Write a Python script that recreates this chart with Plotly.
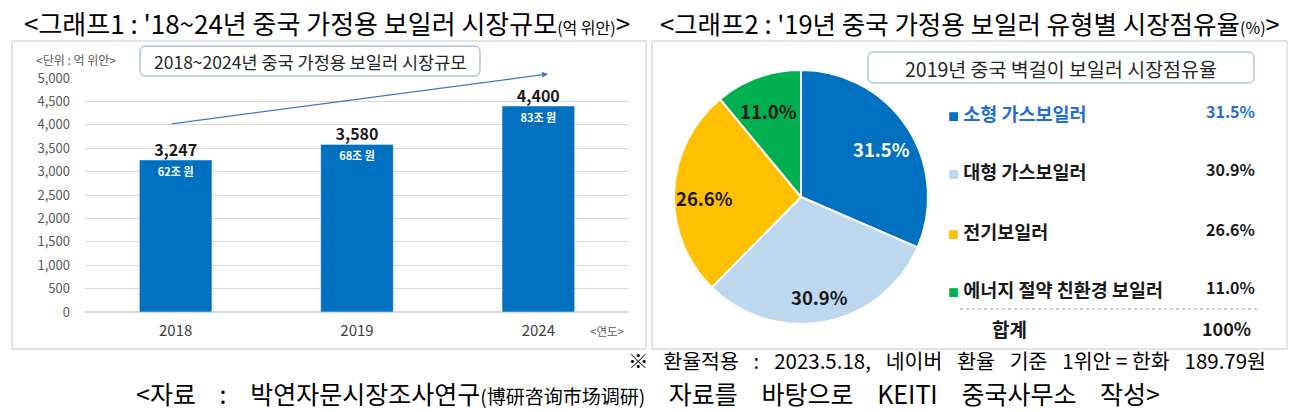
import math
import plotly.graph_objects as go

W, H = 1298, 412

# ---- data ----
years = ["2018", "2019", "2024"]
market_size = [3247, 3580, 4400]
krw_labels = ["62조 원", "68조 원", "83조 원"]
y_ticks = [0, 500, 1000, 1500, 2000, 2500, 3000, 3500, 4000, 4500, 5000]

pie_labels = ["소형 가스보일러", "대형 가스보일러", "전기보일러", "에너지 절약 친환경 보일러"]
pie_values = [31.5, 30.9, 26.6, 11.0]
pie_colors = ["#0070C0", "#BDD7EE", "#FFC000", "#00B050"]
pie_text_colors = ["white", "#1a1a1a", "#1a1a1a", "#1a1a1a"]

KR = "Noto Sans CJK KR"
NB = "\u00a0"
GAP = "\u2002" + NB + NB


def px(x):
    return x / W


def py(y):
    return (H - y) / H


fig = go.Figure()

fig.add_trace(go.Bar(
    x=years, y=market_size, marker_color="#0070C0",
    text=krw_labels, textposition="inside", insidetextanchor="end",
    textfont=dict(family=KR, size=11, color="white", weight="bold"),
    hoverinfo="skip", showlegend=False,
))
fig.add_trace(go.Scatter(
    x=years, y=market_size, mode="text",
    text=[f"{v:,}" for v in market_size], textposition="top center",
    textfont=dict(family=KR, size=16, color="#1a1a1a", weight="bold"),
    hoverinfo="skip", showlegend=False,
))

PIE_L, PIE_R, PIE_T, PIE_B = 674, 928, 70, 324
fig.add_trace(go.Pie(
    labels=pie_labels, values=pie_values, sort=False, direction="clockwise",
    rotation=0, marker=dict(colors=pie_colors, line=dict(color="white", width=2)),
    textinfo="none",
    domain=dict(x=[px(PIE_L), px(PIE_R)], y=[py(PIE_B), py(PIE_T)]),
    showlegend=False, hoverinfo="skip",
))

fig.update_layout(
    width=W, height=H, margin=dict(l=0, r=0, t=0, b=0, pad=0), autosize=False,
    paper_bgcolor="white", plot_bgcolor="white",
    bargap=0.6,
    xaxis=dict(domain=[px(85), px(629)], showgrid=False, showline=False,
               automargin=False,
               tickfont=dict(family=KR, size=15, color="#404040"),
               ticklabelstandoff=8, fixedrange=True),
    yaxis=dict(domain=[py(312), py(78)], range=[0, 5000], tickvals=y_ticks,
               automargin=False,
               tickformat=",", gridcolor="#D9D9D9", gridwidth=1,
               zeroline=True, zerolinecolor="#D9D9D9",
               tickfont=dict(family=KR, size=13, color="#595959"),
               ticklabelstandoff=14, fixedrange=True),
    font=dict(family=KR),
)

shapes = []
# panel borders
shapes.append(dict(type="rect", xref="paper", yref="paper",
                   x0=px(12), x1=px(646), y0=py(349), y1=py(41),
                   line=dict(color="#C8C8C8", width=1)))
shapes.append(dict(type="rect", xref="paper", yref="paper",
                   x0=px(652), x1=px(1287), y0=py(349), y1=py(41),
                   line=dict(color="#C8C8C8", width=1)))


def rounded(x0, y0, x1, y1, r=6):
    return (f"M {px(x0 + r)} {py(y0)} L {px(x1 - r)} {py(y0)} "
            f"Q {px(x1)} {py(y0)} {px(x1)} {py(y0 + r)} "
            f"L {px(x1)} {py(y1 - r)} Q {px(x1)} {py(y1)} {px(x1 - r)} {py(y1)} "
            f"L {px(x0 + r)} {py(y1)} Q {px(x0)} {py(y1)} {px(x0)} {py(y1 - r)} "
            f"L {px(x0)} {py(y0 + r)} Q {px(x0)} {py(y0)} {px(x0 + r)} {py(y0)} Z")


shapes.append(dict(type="path", xref="paper", yref="paper",
                   path=rounded(140, 46, 480, 76),
                   line=dict(color="#8FA8C8", width=1), fillcolor="white"))
shapes.append(dict(type="path", xref="paper", yref="paper",
                   path=rounded(868, 52, 1254, 83),
                   line=dict(color="#8FA8C8", width=1), fillcolor="white"))
# dashed total line
shapes.append(dict(type="line", xref="paper", yref="paper",
                   x0=px(960), x1=px(1257), y0=py(309), y1=py(309),
                   line=dict(color="#A0A0A0", width=1, dash="dot")))
fig.update_layout(shapes=shapes)

ann = []


def note(x, y, text, size, color="black", xanchor="center", weight="normal", family=KR):
    ann.append(dict(x=px(x), y=py(y), xref="paper", yref="paper", showarrow=False,
                    xanchor=xanchor, yanchor="middle", text=text,
                    font=dict(family=family, size=size, color=color, weight=weight)))


# titles
note(327, 23, "&lt;그래프1 : '18~24년 중국 가정용 보일러 시장규모<span style=\"font-size:16px\">(억 위안)</span>&gt;", 26)
note(970, 23, "&lt;그래프2 : '19년 중국 가정용 보일러 유형별 시장점유율<span style=\"font-size:16px\">(%)</span>&gt;", 25.5)
# box titles
note(310, 61, "2018~2024년 중국 가정용 보일러 시장규모", 17.5, "#262626")
note(1061, 68, "2019년 중국 벽걸이 보일러 시장점유율", 19.5, "#262626")
note(34, 59, "&lt;단위 : 억 위안&gt;", 12, "#595959", xanchor="left")
note(626, 331, "&lt;연도&gt;", 11.5, "#595959", xanchor="right")
# growth arrow
ann.append(dict(x=px(548), y=py(74), xref="paper", yref="paper",
                ax=170 - 548, ay=124 - 74, showarrow=True,
                arrowhead=2, arrowsize=1, arrowwidth=1.2, arrowcolor="#4472C4",
                text=""))

# pie slice labels, placed along each slice's mid-angle
cx, cy = (PIE_L + PIE_R) / 2, (PIE_T + PIE_B) / 2
rad = min(PIE_R - PIE_L, PIE_B - PIE_T) / 2
total = sum(pie_values)
cum = 0.0
for val, tcol in zip(pie_values, pie_text_colors):
    mid = (cum + val / 2) / total * 2 * math.pi
    cum += val
    lx = cx + 0.76 * rad * math.sin(mid)
    ly = cy - 0.76 * rad * math.cos(mid) + 5
    note(lx, ly, f"{val:.1f}%", 18.5, tcol, weight="bold")

# legend
leg_y = [113, 171, 231, 289]
for i, (lab, val, col) in enumerate(zip(pie_labels, pie_values, pie_colors)):
    tcol = "#1F6FD6" if i == 0 else "#1a1a1a"
    note(946, leg_y[i], f"<span style=\"color:{col};font-size:11px\">■</span> {lab}",
         18.5, tcol, xanchor="left", weight="bold")
    note(1257, leg_y[i] - 2, f"{val:.1f}%", 16, tcol, xanchor="right", weight="bold")
note(1009, 328, "합계", 19, "#1a1a1a", weight="bold")
note(1253, 328, f"{total:.0f}%", 18, "#1a1a1a", xanchor="right", weight="bold")
# footer
g1 = "\u2002" + NB
foot1 = (f"※{g1}환율적용{g1}:{g1}2023.5.18,{g1}네이버{g1}환율{g1}기준{g1}"
         f"1위안{NB}={NB}한화{g1}189.79원")
note(1268, 360, foot1, 20.5, xanchor="right")
foot2 = (f"&lt;자료{GAP}:{GAP}박연자문시장조사연구<span style=\"font-size:19px\">(博研咨询市场调研)</span>"
         f"{GAP}자료를{GAP}바탕으로{GAP}KEITI{GAP}중국사무소{GAP}작성&gt;")
note(648, 393, foot2, 25)
fig.update_layout(annotations=ann)

fig.write_html("out.html")
